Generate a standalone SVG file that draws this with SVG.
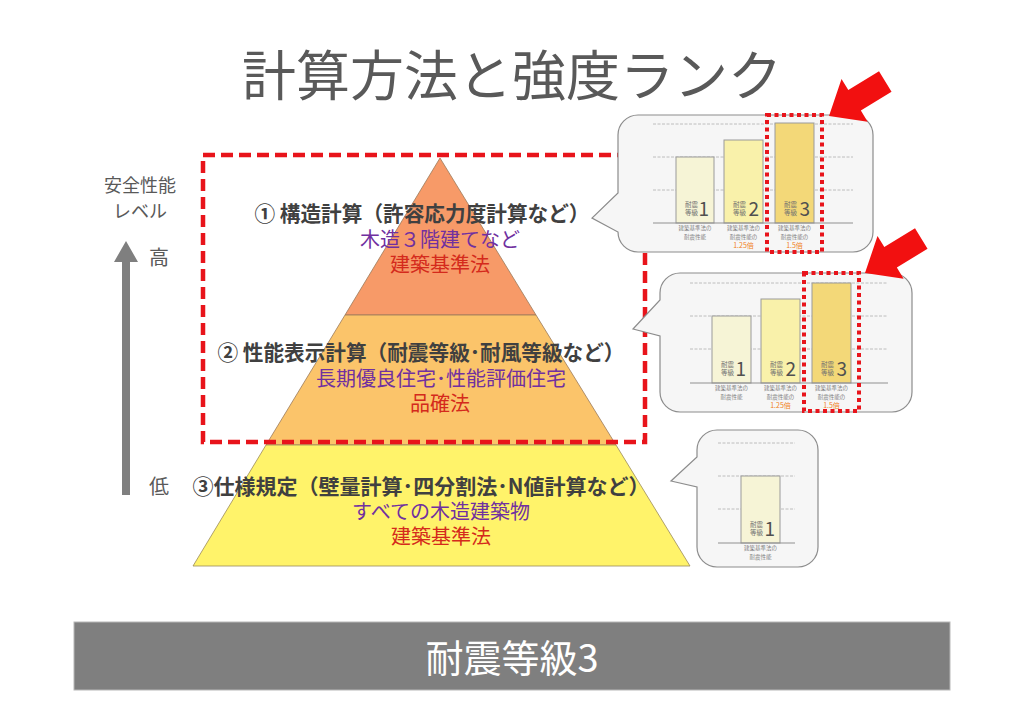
<svg xmlns="http://www.w3.org/2000/svg" width="1024" height="724" viewBox="0 0 1024 724">
<style>
text{font-family:"Noto Sans CJK JP","Noto Sans",sans-serif}
.title{font-size:54px;fill:#595959;text-anchor:middle}
.head{font-size:21px;font-weight:700;fill:#404040;text-anchor:middle}
.pur{font-size:20px;fill:#7030A0;text-anchor:middle}
.red{font-size:20px;fill:#D42A1C;text-anchor:middle}
.lbl{font-size:18px;fill:#595959;text-anchor:middle}
.lv{font-size:20px;fill:#595959;text-anchor:middle}
.bub{fill:#f6f6f6;stroke:#8c8c8c;stroke-width:1.2}
.grid{stroke:#b0b0b0;stroke-width:0.8;stroke-dasharray:3 1.5}
.base{stroke:#909090;stroke-width:1}
.bar{stroke:#9a9a9a;stroke-width:1}
.b1{fill:#F6F4D6}.b2{fill:#F9F1AA}.b3{fill:#F3D878}
.sm{font-size:6.5px;fill:#707070}
.num{font-size:19px;fill:#505050;text-anchor:end}
.sub{font-size:5.5px;fill:#808080;text-anchor:middle}
.or{font-size:7px;fill:#F08020;text-anchor:middle}
.dot{fill:none;stroke:#E8141B;stroke-width:4;stroke-dasharray:4 3.5}
.dash{fill:none;stroke:#E8141B;stroke-width:4.5;stroke-dasharray:12 6}
.rarrow{fill:#F21010}
</style>
<defs>
<polygon id="redArrow" points="0,0 -30,-25 -30,-12 -66,-12 -66,12 -30,12 -30,25"/>
</defs>

<text class="title" x="512" y="96">計算方法と強度ランク</text>

<g id="level-label">
<text class="lbl" x="140" y="192">安全性能</text>
<text class="lbl" x="140" y="218">レベル</text>
<text class="lv" x="159" y="265">高</text>
<text class="lv" x="159" y="494">低</text>
</g>

<g id="pyramid-top">
<polygon points="440,158 345,315 536,315" fill="#F79A68" stroke="#9a7a5a" stroke-width="0.8"/>
</g>
<g id="pyramid-middle">
<polygon points="345,315 536,315 616,445 266,445" fill="#FBC46A" stroke="#9a7a5a" stroke-width="0.8"/>
</g>
<g id="pyramid-bottom">
<polygon points="266,445 616,445 690,566 193,566" fill="#FFF36A" stroke="#9a8a5a" stroke-width="0.8"/>
</g>

<g id="text-1">
<text class="head" x="422" y="221" textLength="335" lengthAdjust="spacingAndGlyphs">① 構造計算（許容応力度計算など）</text>
<text class="pur" x="440" y="247">木造３階建てなど</text>
<text class="red" x="440" y="272">建築基準法</text>
</g>
<g id="text-2">
<text class="head" x="421" y="360" textLength="407" lengthAdjust="spacingAndGlyphs">② 性能表示計算（耐震等級･耐風等級など）</text>
<text class="pur" x="441" y="386">長期優良住宅･性能評価住宅</text>
<text class="red" x="440" y="411">品確法</text>
</g>
<g id="text-3">
<text class="head" x="421" y="494" textLength="457" lengthAdjust="spacingAndGlyphs">③仕様規定（壁量計算･四分割法･N値計算など）</text>
<text class="pur" x="441" y="519">すべての木造建築物</text>
<text class="red" x="441" y="544">建築基準法</text>
</g>

<rect id="highlight" class="dash" x="203" y="155" width="442" height="287"/>

<g id="callout-1">
<path class="bub" d="M638,115 H853 A20,20 0 0 1 873,135 V232 A20,20 0 0 1 853,252 H638 A20,20 0 0 1 618,232 L592,218 L618,193 V135 A20,20 0 0 1 638,115 Z"/>
<line class="grid" x1="653" y1="124" x2="853" y2="124"/>
<line class="grid" x1="653" y1="157" x2="853" y2="157"/>
<line class="grid" x1="653" y1="190" x2="853" y2="190"/>
<rect class="bar b1" x="676" y="157" width="38" height="66"/>
<rect class="bar b2" x="724" y="140" width="39" height="83"/>
<rect class="bar b3" x="775" y="123" width="39" height="100"/>
<line class="base" x1="653" y1="223" x2="853" y2="223"/>
<text class="sm" x="685" y="206.5">耐震</text><text class="sm" x="685" y="214.5">等級</text><text class="num" x="709" y="215.5">1</text>
<text class="sm" x="733" y="206.5">耐震</text><text class="sm" x="733" y="214.5">等級</text><text class="num" x="759" y="215.5">2</text>
<text class="sm" x="784" y="206.5">耐震</text><text class="sm" x="784" y="214.5">等級</text><text class="num" x="810" y="215.5">3</text>
<text class="sub" x="695" y="230">建築基準法の</text><text class="sub" x="695" y="238.5">耐震性能</text>
<text class="sub" x="743.5" y="230">建築基準法の</text><text class="sub" x="743.5" y="238.5">耐震性能の</text><text class="or" x="743.5" y="248">1.25倍</text>
<text class="sub" x="794.5" y="230">建築基準法の</text><text class="sub" x="794.5" y="238.5">耐震性能の</text><text class="or" x="794.5" y="248">1.5倍</text>
<rect class="dot" x="767" y="115" width="55" height="137"/>
</g>

<g id="callout-2">
<path class="bub" d="M680,273 H892 A20,20 0 0 1 912,293 V392 A20,20 0 0 1 892,412 H680 A20,20 0 0 1 660,392 V336 L633,329 L660,300 V293 A20,20 0 0 1 680,273 Z"/>
<line class="grid" x1="690" y1="283" x2="888" y2="283"/>
<line class="grid" x1="690" y1="316" x2="888" y2="316"/>
<line class="grid" x1="690" y1="349" x2="888" y2="349"/>
<rect class="bar b1" x="712" y="316" width="39" height="67"/>
<rect class="bar b2" x="761" y="299" width="39" height="84"/>
<rect class="bar b3" x="812" y="283" width="39" height="100"/>
<line class="base" x1="690" y1="383" x2="888" y2="383"/>
<text class="sm" x="721" y="366.5">耐震</text><text class="sm" x="721" y="374.5">等級</text><text class="num" x="746" y="375.5">1</text>
<text class="sm" x="770" y="366.5">耐震</text><text class="sm" x="770" y="374.5">等級</text><text class="num" x="796" y="375.5">2</text>
<text class="sm" x="821" y="366.5">耐震</text><text class="sm" x="821" y="374.5">等級</text><text class="num" x="847" y="375.5">3</text>
<text class="sub" x="731.5" y="390">建築基準法の</text><text class="sub" x="731.5" y="398.5">耐震性能</text>
<text class="sub" x="780.5" y="390">建築基準法の</text><text class="sub" x="780.5" y="398.5">耐震性能の</text><text class="or" x="780.5" y="408">1.25倍</text>
<text class="sub" x="831.5" y="390">建築基準法の</text><text class="sub" x="831.5" y="398.5">耐震性能の</text><text class="or" x="831.5" y="408">1.5倍</text>
<rect class="dot" x="804" y="273" width="55" height="138"/>
</g>

<g id="callout-3">
<path class="bub" d="M717,430 H798 A20,20 0 0 1 818,450 V547 A20,20 0 0 1 798,567 H717 A20,20 0 0 1 697,547 V487 L671,481 L697,457 V450 A20,20 0 0 1 717,430 Z"/>
<line class="grid" x1="718" y1="443" x2="795" y2="443"/>
<line class="grid" x1="718" y1="476" x2="795" y2="476"/>
<line class="grid" x1="718" y1="509" x2="795" y2="509"/>
<rect class="bar b1" x="741" y="476" width="39" height="67"/>
<line class="base" x1="718" y1="543" x2="795" y2="543"/>
<text class="sm" x="750" y="526.5">耐震</text><text class="sm" x="750" y="534.5">等級</text><text class="num" x="775" y="535.5">1</text>
<text class="sub" x="760.5" y="550">建築基準法の</text><text class="sub" x="760.5" y="558.5">耐震性能</text>
</g>

<g id="connectors">
<path d="M126,241 L138,262 L130,262 L130,495 L122,495 L122,262 L114,262 Z" fill="#7f7f7f"/>
<use href="#redArrow" class="rarrow" transform="translate(829,116) rotate(148.5)"/>
<use href="#redArrow" class="rarrow" transform="translate(865,273) rotate(148.5)"/>
</g>

<g id="footer">
<rect x="74" y="622" width="876" height="68" fill="#7f7f7f" stroke="#b8b8b8" stroke-width="1"/>
<text x="512" y="672" font-size="38" fill="#ffffff" text-anchor="middle">耐震等級3</text>
</g>
</svg>
